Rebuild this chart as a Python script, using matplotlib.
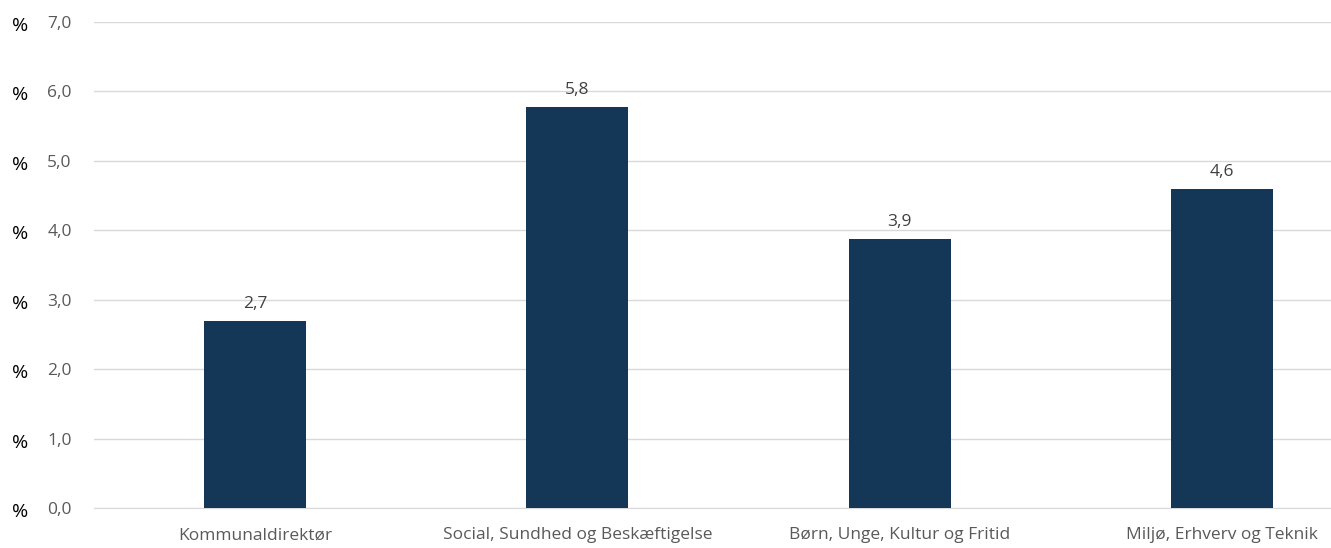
import matplotlib
matplotlib.use("Agg")
import matplotlib.pyplot as plt
from matplotlib.transforms import blended_transform_factory, offset_copy

categories = ["Kommunaldirektør", "Social, Sundhed og Beskæftigelse",
              "Børn, Unge, Kultur og Fritid", "Miljø, Erhverv og Teknik"]
values = [2.7, 5.77, 3.87, 4.6]
yticks = [0, 1, 2, 3, 4, 5, 6, 7]

plt.rcParams['font.family'] = ['Open Sans', 'DejaVu Sans']

W, H = 1331, 548
fig = plt.figure(figsize=(W/100, H/100), dpi=100)
left, right = 94, 1383
top, bottom = 22, 508
ax = fig.add_axes([left/W, 1 - bottom/H, (right-left)/W, (bottom-top)/H])

x = list(range(len(categories)))
ax.bar(x, values, width=0.317, color="#143757", zorder=3)
ax.set_xlim(-0.5, len(categories) - 0.5)
ax.set_ylim(0, 7)
ax.set_yticks(yticks)
ax.set_yticklabels([f"{t:.1f}".replace(".", ",") for t in yticks], color="#595959", fontsize=12.5)
ax.yaxis.grid(True, color="#d9d9d9", linewidth=1, zorder=0)
ax.set_axisbelow(True)
ax.tick_params(axis='y', length=0, pad=16)
ax.tick_params(axis='x', length=0, pad=14)
ax.set_xticks(x)
ax.set_xticklabels(categories, color="#595959", fontsize=12.5)
for s in ["top", "right", "left"]:
    ax.spines[s].set_visible(False)
ax.spines["bottom"].set_color("#d9d9d9")

trans = blended_transform_factory(fig.transFigure, ax.transData)
trans = offset_copy(trans, fig=fig, y=-4, units='dots')
for t in yticks:
    fig.text(12/W, t, "%", transform=trans, ha="left", va="center", fontsize=14, color="black")

for xi, v in zip(x, values):
    ax.text(xi, v + 0.13, f"{v:.1f}".replace(".", ","), ha="center", va="bottom",
            fontsize=12.5, color="#404040")

fig.savefig("out.png", dpi=100)
